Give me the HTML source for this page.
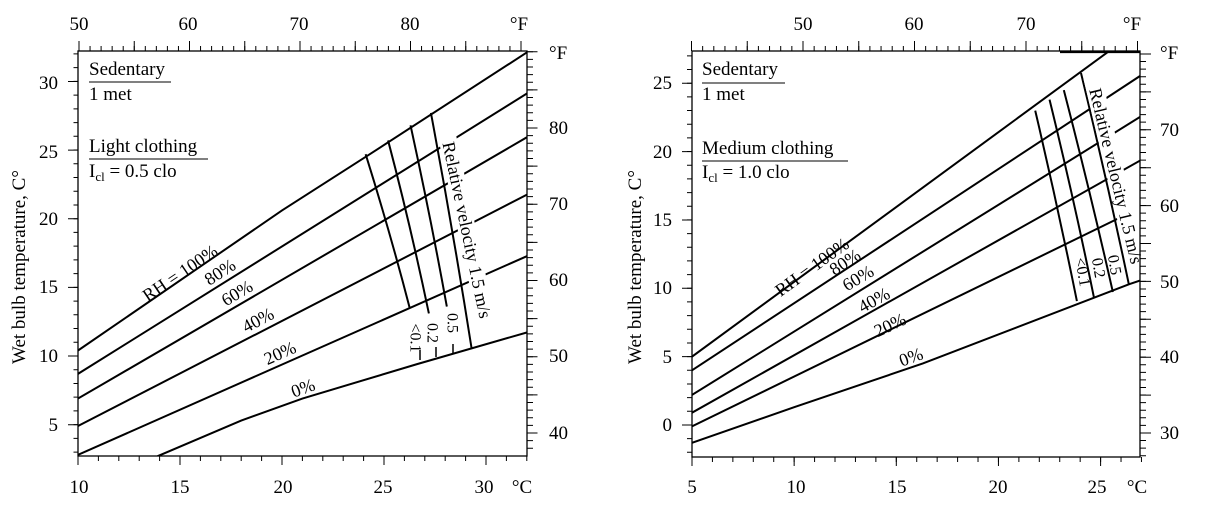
<!DOCTYPE html>
<html><head><meta charset="utf-8"><style>
html,body{margin:0;padding:0;background:#fff;}
svg{display:block;font-family:"Liberation Serif",serif;}
</style></head><body>
<svg width="1216" height="506" viewBox="0 0 1216 506" xmlns="http://www.w3.org/2000/svg">
<defs>
<clipPath id="cl"><rect x="78" y="51" width="449" height="405"/></clipPath>
<clipPath id="cr"><rect x="692" y="51" width="448" height="406"/></clipPath>
</defs>

<!-- ================= LEFT CHART ================= -->
<g clip-path="url(#cl)">
<g transform="translate(78,356) scale(20.4,-13.73) translate(-10,-10)" fill="none" stroke="#000" stroke-width="2" vector-effect="non-scaling-stroke">
<path vector-effect="non-scaling-stroke" d="M10,10.4 L20,20.6 L24.2,24.6 L32.2,32.3"/>
<path vector-effect="non-scaling-stroke" d="M10,8.7 L32.2,29.3"/>
<path vector-effect="non-scaling-stroke" d="M10,6.9 L32.2,26.1"/>
<path vector-effect="non-scaling-stroke" d="M10,4.9 L32.2,21.9"/>
<path vector-effect="non-scaling-stroke" d="M10,2.8 L32.2,17.4"/>
<path vector-effect="non-scaling-stroke" d="M13.9,2.7 L18,5.3 L21,6.9 L26.6,9.4 L32.2,11.8"/>
<path vector-effect="non-scaling-stroke" d="M24.1,24.7 Q25.3,19 26.26,13.5"/>
<path vector-effect="non-scaling-stroke" d="M25.2,25.7 Q26.3,19.5 27.2,13.1"/>
<path vector-effect="non-scaling-stroke" d="M26.3,26.8 Q27.3,20 28.08,13.6"/>
<path vector-effect="non-scaling-stroke" d="M27.3,27.7 Q28.4,19 29.3,10.5"/>
</g>
</g>
<g stroke="#000" stroke-width="1.5">
<line x1="420" y1="350" x2="420" y2="360"/>
<line x1="436" y1="347" x2="436" y2="357"/>
<line x1="453" y1="344" x2="453" y2="354"/>
</g>
<rect x="359" y="221" width="216" height="18" fill="#fff" transform="rotate(78 467 230)"/>
<text x="467" y="230" font-size="18" text-anchor="middle" dominant-baseline="central" transform="rotate(78 467 230)">Relative velocity 1.5 m/s</text>
<g font-size="16" text-anchor="middle" dominant-baseline="central">
<text x="415" y="338" transform="rotate(90 415 338)">&lt;0.1</text>
<text x="432" y="333" transform="rotate(90 432 333)">0.2</text>
<text x="452" y="323" transform="rotate(90 452 323)">0.5</text>
</g>
<g font-size="18" text-anchor="middle">
<text x="180" y="279" transform="rotate(-34 180 273)">RH = 100%</text>
<text x="220" y="278" transform="rotate(-33 220 272)">80%</text>
<text x="237" y="299" transform="rotate(-31 237 293)">60%</text>
<text x="258" y="326" transform="rotate(-28 258 320)">40%</text>
<text x="280" y="359" transform="rotate(-24 280 353)">20%</text>
<text x="303" y="394" transform="rotate(-20 303 388)">0%</text>
</g>
<g font-size="19">
<text x="89" y="75">Sedentary</text>
<line x1="89" y1="82" x2="171" y2="82" stroke="#000" stroke-width="1"/>
<text x="89" y="100">1 met</text>
<text x="89" y="152">Light clothing</text>
<line x1="89" y1="159" x2="208" y2="159" stroke="#000" stroke-width="1"/>
<text x="89" y="177">I<tspan font-size="13" dy="4">cl</tspan><tspan dy="-4"> = 0.5 clo</tspan></text>
</g>
<rect x="78" y="51" width="449" height="405" fill="none" stroke="#000" stroke-width="1.3"/>
<g stroke="#000" stroke-width="1" fill="none">
<line x1="76" y1="452.6" x2="76" y2="51" stroke-width="5" stroke-dasharray="1 12.73"/>
<line x1="73" y1="425.2" x2="73" y2="60" stroke-width="10" stroke-dasharray="1 67.65"/>
<line x1="77.5" y1="458.5" x2="528" y2="458.5" stroke-width="5" stroke-dasharray="1 19.4"/>
<line x1="77.5" y1="460.5" x2="528" y2="460.5" stroke-width="9" stroke-dasharray="1 101"/>
<line x1="78.5" y1="48.5" x2="527" y2="48.5" stroke-width="5" stroke-dasharray="1 10.05"/>
<line x1="78.5" y1="46" x2="527" y2="46" stroke-width="10" stroke-dasharray="1 54.25"/>
<line x1="530" y1="448.8" x2="530" y2="51" stroke-width="6" stroke-dasharray="1 6.625"/>
<line x1="532" y1="433.5" x2="532" y2="51" stroke-width="11" stroke-dasharray="1 37.125"/>
</g>
<g font-size="19">
<g text-anchor="middle">
<text x="79" y="30">50</text><text x="188" y="30">60</text><text x="299" y="30">70</text><text x="410" y="30">80</text><text x="519" y="30">°F</text>
<text x="79" y="493">10</text><text x="180" y="493">15</text><text x="283" y="493">20</text><text x="383" y="493">25</text><text x="484" y="493">30</text><text x="522" y="493">°C</text>
</g>
<g text-anchor="end">
<text x="58" y="431">5</text><text x="58" y="362">10</text><text x="58" y="293">15</text><text x="58" y="225">20</text><text x="58" y="158">25</text><text x="58" y="89">30</text>
</g>
<text x="549" y="439">40</text><text x="549" y="362">50</text><text x="549" y="286">60</text><text x="549" y="210">70</text><text x="549" y="134">80</text><text x="549" y="59">°F</text>
<text x="25" y="267" text-anchor="middle" transform="rotate(-90 25 267)">Wet bulb temperature, C°</text>
</g>

<!-- ================= RIGHT CHART ================= -->
<g clip-path="url(#cr)">
<g transform="translate(692,425) scale(20.43,-13.67) translate(-5,0)" fill="none" stroke="#000" stroke-width="2">
<path vector-effect="non-scaling-stroke" d="M5,5.0 L25.46,27.4"/>
<path vector-effect="non-scaling-stroke" d="M5,4.0 L27,25.6"/>
<path vector-effect="non-scaling-stroke" d="M5,2.2 L27,22.6"/>
<path vector-effect="non-scaling-stroke" d="M5,0.9 L27,19.4"/>
<path vector-effect="non-scaling-stroke" d="M5,-0.1 L26.4,15.5"/>
<path vector-effect="non-scaling-stroke" d="M5,-1.3 L10,1.3 L16.3,4.5 L26.4,10.3 L27,10.6"/>
<path vector-effect="non-scaling-stroke" d="M21.8,23.0 Q22.9,16 23.84,9.07"/>
<path vector-effect="non-scaling-stroke" d="M22.5,23.8 Q23.7,16.5 24.67,9.36"/>
<path vector-effect="non-scaling-stroke" d="M23.2,24.5 Q24.5,17 25.6,9.73"/>
<path vector-effect="non-scaling-stroke" d="M24.04,25.75 Q25.3,18 26.38,10.31"/>
</g>
</g>
<rect x="1014" y="167" width="204" height="18" fill="#fff" transform="rotate(76.5 1116 176)"/>
<text x="1116" y="176" font-size="18" text-anchor="middle" dominant-baseline="central" transform="rotate(76.5 1116 176)">Relative velocity 1.5 m/s</text>
<g font-size="16" text-anchor="middle" dominant-baseline="central">
<text x="1082" y="272" transform="rotate(80 1082 272)">&lt;0.1</text>
<text x="1098" y="268" transform="rotate(80 1098 268)">0.2</text>
<text x="1114" y="265" transform="rotate(80 1114 265)">0.5</text>
</g>
<g font-size="18" text-anchor="middle">
<text x="812" y="273" transform="rotate(-36 812 267)">RH = 100%</text>
<text x="845" y="268" transform="rotate(-33 845 262)">80%</text>
<text x="858" y="284" transform="rotate(-31 858 278)">60%</text>
<text x="874" y="306" transform="rotate(-29 874 300)">40%</text>
<text x="890" y="331" transform="rotate(-25 890 325)">20%</text>
<text x="911" y="363" transform="rotate(-20 911 357)">0%</text>
</g>
<g font-size="19">
<text x="702" y="75">Sedentary</text>
<line x1="702" y1="83" x2="785" y2="83" stroke="#000" stroke-width="1"/>
<text x="702" y="100">1 met</text>
<text x="702" y="154">Medium clothing</text>
<line x1="702" y1="161" x2="848" y2="161" stroke="#000" stroke-width="1"/>
<text x="702" y="178">I<tspan font-size="13" dy="4">cl</tspan><tspan dy="-4"> = 1.0 clo</tspan></text>
</g>
<rect x="692" y="51" width="448" height="406" fill="none" stroke="#000" stroke-width="1.3"/>
<line x1="1060" y1="52" x2="1140" y2="52" stroke="#000" stroke-width="2.2"/>
<g stroke="#000" fill="none">
<line x1="689.5" y1="452.8" x2="689.5" y2="51" stroke-width="5" stroke-dasharray="1 12.67"/>
<line x1="687" y1="425.5" x2="687" y2="51" stroke-width="10" stroke-dasharray="1 67.35"/>
<line x1="691.5" y1="459.5" x2="1142" y2="459.5" stroke-width="5" stroke-dasharray="1 19.43"/>
<line x1="691.5" y1="461.5" x2="1142" y2="461.5" stroke-width="9" stroke-dasharray="1 101.15"/>
<line x1="691" y1="48.5" x2="1141" y2="48.5" stroke-width="5" stroke-dasharray="1 10.15"/>
<line x1="691" y1="46" x2="1141" y2="46" stroke-width="10" stroke-dasharray="1 54.75"/>
<line x1="1143" y1="456.2" x2="1143" y2="51" stroke-width="6" stroke-dasharray="1 6.58"/>
<line x1="1145.5" y1="433.5" x2="1145.5" y2="51" stroke-width="11" stroke-dasharray="1 36.9"/>
</g>
<g font-size="19">
<g text-anchor="middle">
<text x="803" y="30">50</text><text x="914" y="30">60</text><text x="1026" y="30">70</text><text x="1132" y="30">°F</text>
<text x="692" y="493">5</text><text x="796" y="493">10</text><text x="897" y="493">15</text><text x="998" y="493">20</text><text x="1097" y="493">25</text><text x="1137" y="493">°C</text>
</g>
<g text-anchor="end">
<text x="672" y="431">0</text><text x="672" y="363">5</text><text x="672" y="294">10</text><text x="672" y="226">15</text><text x="672" y="158">20</text><text x="672" y="89">25</text>
</g>
<text x="1160" y="439">30</text><text x="1160" y="363">40</text><text x="1160" y="288">50</text><text x="1160" y="212">60</text><text x="1160" y="136">70</text><text x="1160" y="59">°F</text>
<text x="641" y="267" text-anchor="middle" transform="rotate(-90 641 267)">Wet bulb temperature, C°</text>
</g>
</svg>
</body></html>
